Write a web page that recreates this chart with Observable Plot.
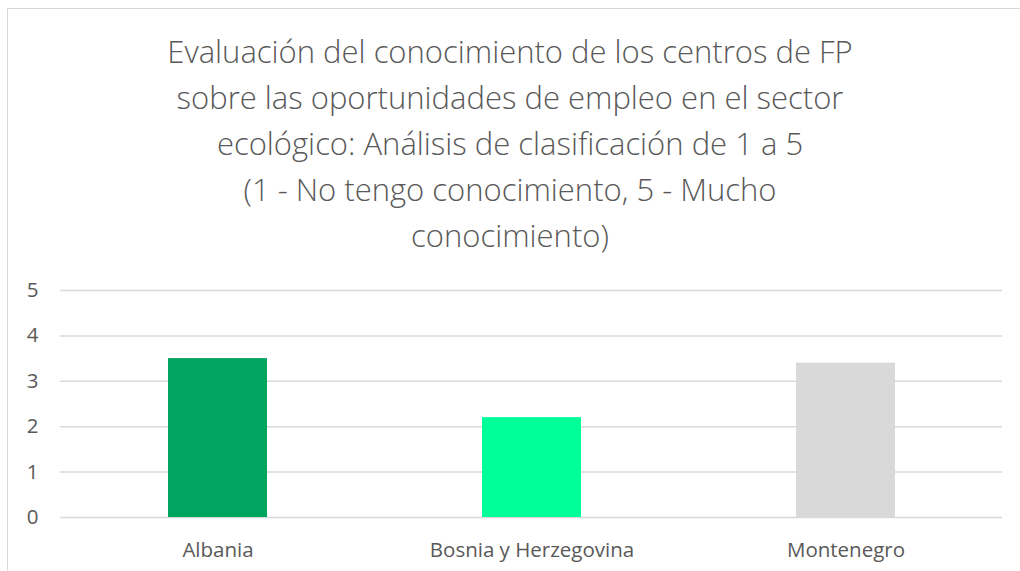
<!DOCTYPE html>
<html>
<head>
<meta charset="utf-8">
<script src="https://cdn.jsdelivr.net/npm/d3@7"></script>
<script src="https://cdn.jsdelivr.net/npm/@observablehq/plot@0.6"></script>
<style>
  html, body { margin: 0; padding: 0; background: #fff; }
  body { width: 1020px; height: 571px; position: relative; overflow: hidden; font-family: "Open Sans", sans-serif; }
  #frame { position: absolute; left: 7px; top: 8px; width: 1100px; height: 700px; border: 1.5px solid #d9d9d9; box-sizing: border-box; }
  #title { position: absolute; left: 0; top: 28px; width: 1020px; text-align: center; color: #595959; font-family: "Open Sans", sans-serif; font-weight: 300; font-size: 31px; line-height: 46px; }
  #chart { position: absolute; left: 0; top: 270px; }
</style>
</head>
<body>
<div id="frame"></div>
<div id="title">Evaluación del conocimiento de los centros de FP<br>sobre las oportunidades de empleo en el sector<br>ecológico: Análisis de clasificación de 1 a 5<br>(1 - No tengo conocimiento, 5 - Mucho<br>conocimiento)</div>
<div id="chart"></div>
<script>
const categories = ["Albania", "Bosnia y Herzegovina", "Montenegro"];
const values = [3.5, 2.2, 3.4];
const colors = ["#00a65f", "#00ff99", "#d9d9d9"];
const yTicks = [0, 1, 2, 3, 4, 5];

const data = categories.map((c, i) => ({country: c, value: values[i]}));

const chart = Plot.plot({
  width: 1020,
  height: 301,
  marginLeft: 60,
  marginRight: 18,
  marginTop: 20,
  marginBottom: 54,
  style: {fontFamily: "Open Sans, sans-serif", fontSize: "20.5px", color: "#595959", background: "transparent"},
  x: {domain: categories, paddingInner: 0.685, paddingOuter: 0.3425, label: null},
  y: {domain: [0, 5], label: null},
  color: {domain: categories, range: colors},
  marks: [
    Plot.gridY(yTicks, {stroke: "#d9d9d9", strokeOpacity: 1, strokeWidth: 1.5}),
    Plot.barY(data, {x: "country", y: "value", fill: "country"}),
    Plot.axisY(yTicks, {tickSize: 0, tickPadding: 22, fill: "#595959", fontSize: 20.5, label: null}),
    Plot.axisX({tickSize: 0, tickPadding: 25, fill: "#595959", fontSize: 20.5, label: null})
  ]
});
document.getElementById("chart").appendChild(chart);
</script>
</body>
</html>
